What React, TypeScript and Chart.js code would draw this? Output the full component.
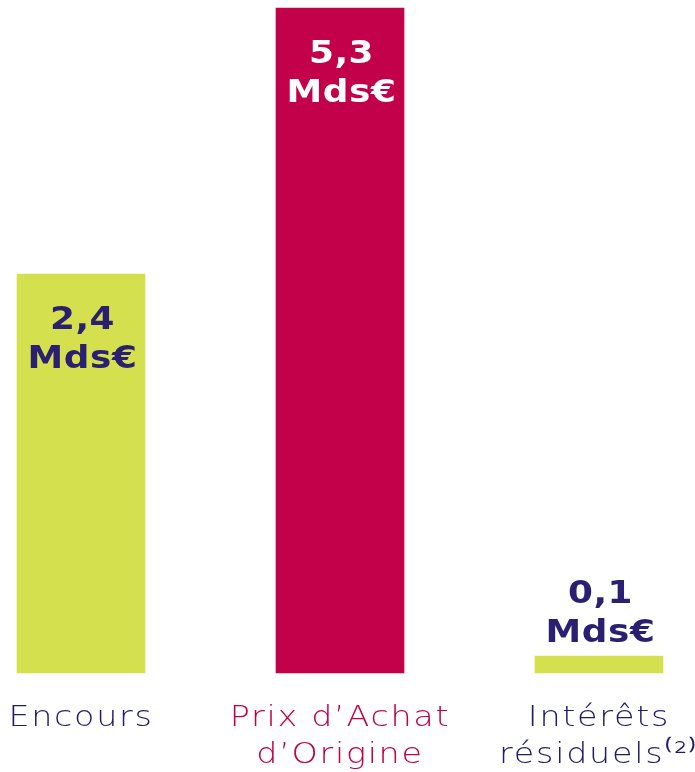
import React, { useEffect, useRef } from "react";
import { Chart, registerables } from "chart.js";

Chart.register(...registerables);

const categories: string[][] = [["Encours"], ["Prix d’Achat", "d’Origine"], ["Intérêts", "résiduels⁽²⁾"]];
// bar heights as drawn in the picture (the picture is not to scale)
const barHeights = [3.18, 5.3, 0.135];
const valueLines: string[][] = [["2,4", "Mds€"], ["5,3", "Mds€"], ["0,1", "Mds€"]];
const labelInside = [true, true, false];
const barColors = ["#d4e04e", "#c3004a", "#d4e04e"];
const tickColors = ["#221b6c", "#c0004a", "#221b6c"];
const valueColors = ["#2a1f70", "#ffffff", "#2a1f70"];

const TICK_SCALE_X = 1.15;
const VALUE_SCALE_X = 1.12;

function patchCtx(ctx: any) {
  if (ctx.__patched) return;
  ctx.__patched = true;
  ctx.__sx = TICK_SCALE_X;
  const orig = ctx.fillText.bind(ctx);
  ctx.fillText = (t: string, x: number, y: number, mw?: number) => {
    ctx.save();
    ctx.translate(x, y);
    ctx.scale(ctx.__sx || 1, 1);
    if (mw === undefined || mw === null) orig(t, 0, 0);
    else orig(t, 0, 0, mw);
    ctx.restore();
  };
}

const valueLabelPlugin = {
  id: "valueLabels",
  beforeUpdate(chart: any) {
    chart.ctx.letterSpacing = "1.5px";
  },
  beforeDraw(chart: any) {
    patchCtx(chart.ctx);
    chart.ctx.letterSpacing = "1.5px";
    chart.ctx.__sx = TICK_SCALE_X;
  },
  afterDatasetsDraw(chart: any) {
    const ctx = chart.ctx;
    const meta = chart.getDatasetMeta(0);
    ctx.save();
    ctx.__sx = VALUE_SCALE_X;
    ctx.letterSpacing = "0.5px";
    ctx.font = "bold 32px 'DejaVu Sans'";
    ctx.textAlign = "center";
    ctx.textBaseline = "alphabetic";
    meta.data.forEach((bar: any, i: number) => {
      const x = bar.x + 1.5;
      const top = bar.y;
      ctx.fillStyle = valueColors[i];
      const lines = valueLines[i];
      if (labelInside[i]) {
        ctx.fillText(lines[0], x, top + 55);
        ctx.fillText(lines[1], x, top + 94);
      } else {
        ctx.fillText(lines[0], x, top - 53);
        ctx.fillText(lines[1], x, top - 14);
      }
    });
    ctx.restore();
    ctx.__sx = TICK_SCALE_X;
  },
};

export default function App() {
  const ref = useRef<HTMLCanvasElement>(null);
  useEffect(() => {
    if (!ref.current) return;
    const chart = new Chart(ref.current, {
      type: "bar",
      data: {
        labels: categories as any,
        datasets: [
          {
            data: barHeights,
            backgroundColor: barColors,
            barThickness: 128,
            borderWidth: 0,
            clip: false as any,
          },
        ],
      },
      options: {
        animation: false,
        responsive: true,
        maintainAspectRatio: false,
        layout: { padding: { left: 81, right: 96, top: 8, bottom: 0 } },
        plugins: { legend: { display: false }, tooltip: { enabled: false } },
        scales: {
          x: {
            type: "category",
            offset: false,
            grid: { display: false, drawTicks: false },
            border: { display: false },
            afterFit: (scale: any) => {
              scale.height = 99;
              scale.paddingLeft = 0;
              scale.paddingRight = 0;
            },
            ticks: {
              autoSkip: false,
              maxRotation: 0,
              minRotation: 0,
              padding: 27,
              color: (c: any) => tickColors[c.index],
              font: { family: "'DejaVu Sans'", size: 29, weight: 200 as any, lineHeight: 1.276 },
            },
          },
          y: {
            display: false,
            min: 0,
            max: 5.3,
          },
        },
      },
      plugins: [valueLabelPlugin],
    });
    return () => chart.destroy();
  }, []);
  return (
    <div style={{ position: "absolute", left: 0, top: 0, width: 695, height: 772, background: "#ffffff" }}>
      <canvas ref={ref} />
    </div>
  );
}
